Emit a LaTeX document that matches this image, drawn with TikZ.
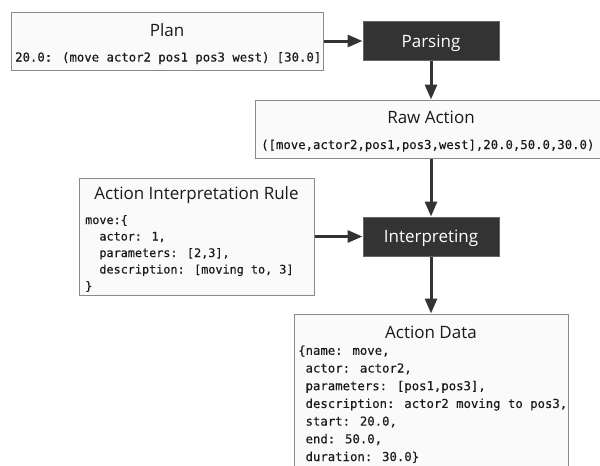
\documentclass[tikz,border=0pt]{standalone}
\usepackage{fontspec}
\usetikzlibrary{arrows.meta}
\newfontfamily\titlefont{Open Sans}
\newfontfamily\codefont[FakeBold=0.35]{DejaVu Sans Mono}
\definecolor{boxfill}{HTML}{FAFAFA}
\definecolor{boxline}{HTML}{8A8A8A}
\definecolor{darkfill}{HTML}{333333}
\definecolor{darkline}{HTML}{666666}
\definecolor{inkc}{HTML}{1A1A1A}
\begin{document}
\begin{tikzpicture}[x=1pt,y=-1pt,
  panel/.style={draw=boxline, fill=boxfill, line width=1pt, rectangle, inner sep=0pt},
  darkbox/.style={draw=darkline, fill=darkfill, line width=1pt, text=white,
    font=\titlefont\fontsize{17}{20}\selectfont, minimum width=136pt, minimum height=39pt,
    text height=12.2pt, text depth=0pt, inner sep=0pt},
  title/.style={anchor=base, text=inkc, font=\titlefont\fontsize{17}{20}\selectfont, inner sep=0pt},
  code/.style={anchor=base west, align=left, text=inkc, inner sep=0pt,
    font=\codefont\fontsize{12.3}{17.7}\selectfont},
  flow/.style={draw=darkfill, line width=3pt, -{Triangle[length=15pt,width=12pt]}}]
\useasboundingbox (0,0) rectangle (600,466);
\clip (0,0) rectangle (600,466);
% boxes
\node[panel, minimum width=312pt, minimum height=58pt] (plan) at (167,41) {};
\node[darkbox] (parsing) at (431,41) {Parsing};
\node[panel, minimum width=352pt, minimum height=58pt] (raw) at (431,129) {};
\node[panel, minimum width=235pt, minimum height=117pt] (rule) at (196.5,236.5) {};
\node[darkbox] (interp) at (431,236.5) {Interpreting};
\node[panel, minimum width=274pt, minimum height=172pt] (data) at (431,400) {};
% titles
\node[title] (plant) at (167,36.5) {Plan};
\node[title] (rawt) at (431,123) {Raw Action};
\node[title] (rulet) at (196.5,199) {Action Interpretation Rule};
\node[title] (datat) at (431,338) {Action Data};
% code (multi-line nodes: base = baseline of last line)
\node[code] (planc) at (15,61.5) {20.0: (move actor2 pos1 pos3 west) [30.0]};
\node[code] (rawc) at (261,149) {([move,actor2,pos1,pos3,west],20.0,50.0,30.0)};
\node[code, font=\codefont\fontsize{11.8}{16.5}\selectfont] (rulec) at (85,290)
  {move:\{\\
   \phantom{xx}actor: 1,\\
   \phantom{xx}parameters: [2,3],\\
   \phantom{xx}description: [moving to, 3]\\
   \}};
\node[code] (datac) at (298,461)
  {\{name: move,\\
   \phantom{x}actor: actor2,\\
   \phantom{x}parameters: [pos1,pos3],\\
   \phantom{x}description: actor2 moving to pos3,\\
   \phantom{x}start: 20.0,\\
   \phantom{x}end: 50.0,\\
   \phantom{x}duration: 30.0\}};
% connectors
\draw[flow] (plan.east) -- (parsing.west);
\draw[flow] (parsing.south) -- (raw.north);
\draw[flow] (raw.south) -- (interp.north);
\draw[flow] (rule.east) -- (interp.west);
\draw[flow] (interp.south) -- (data.north);
\end{tikzpicture}
\end{document}
